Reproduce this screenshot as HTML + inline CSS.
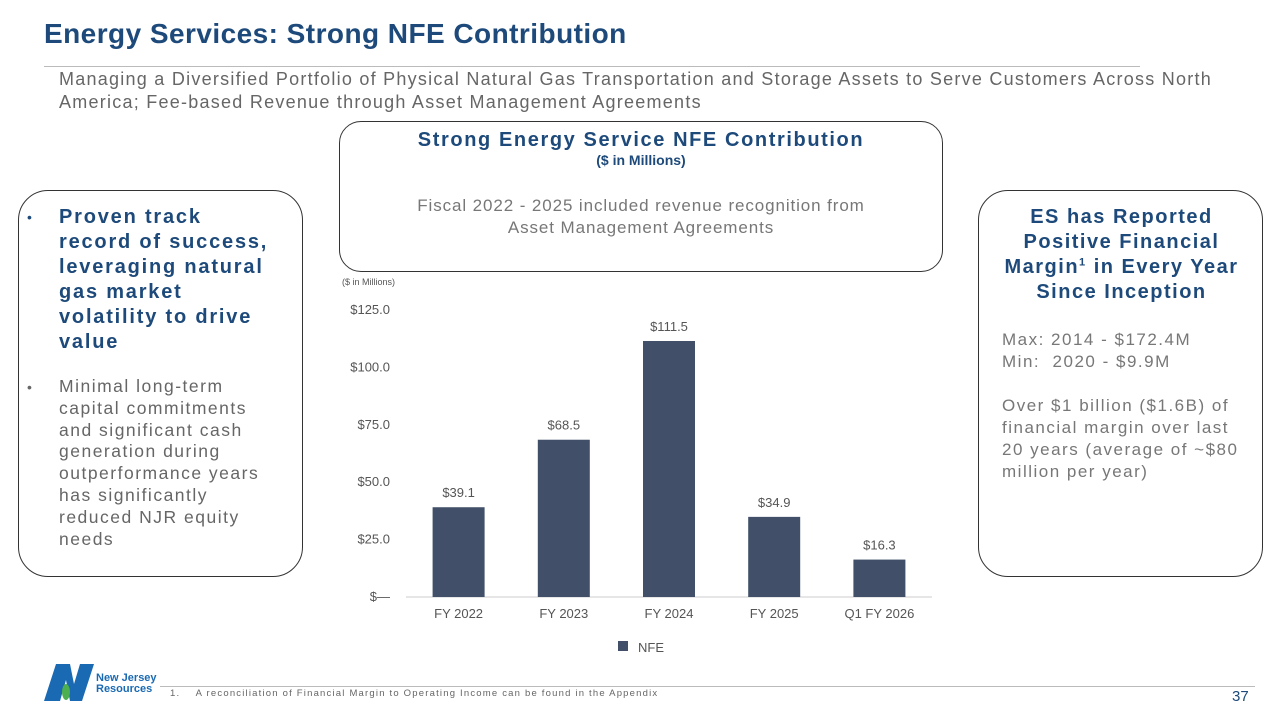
<!DOCTYPE html>
<html><head><meta charset="utf-8"><style>
body{margin:0;width:1280px;height:720px;background:#fff;font-family:"Liberation Sans",sans-serif;position:relative;overflow:hidden}
.abs{position:absolute}
.box{position:absolute;border:1px solid #333;border-radius:30px;box-sizing:border-box}
</style></head><body>
<div class="abs" style="left:44px;top:18px;font-size:28px;letter-spacing:0.45px;font-weight:bold;color:#1d4a7a">Energy Services: Strong NFE Contribution</div>
<div class="abs" style="left:44px;top:66px;width:1096px;height:1px;background:#bbb"></div>
<div class="abs" style="left:59px;top:68px;width:1220px;font-size:18px;letter-spacing:1.25px;line-height:23px;color:#666;white-space:nowrap">Managing a Diversified Portfolio of Physical Natural Gas Transportation and Storage Assets to Serve Customers Across North<br>America; Fee-based Revenue through Asset Management Agreements</div>

<div class="box" style="left:339px;top:121px;width:604px;height:151px;border-radius:22px;text-align:center">
<div style="margin-top:7px;font-size:20px;letter-spacing:1.6px;font-weight:bold;color:#1d4a7a">Strong Energy Service NFE Contribution</div>
<div style="font-size:14px;font-weight:bold;color:#1d4a7a">($ in Millions)</div>
<div style="margin-top:27px;font-size:17px;letter-spacing:0.9px;line-height:22px;color:#777">Fiscal 2022 - 2025 included revenue recognition from<br>Asset Management Agreements</div>
</div>

<div class="box" style="left:18px;top:190px;width:285px;height:387px">
<div class="abs" style="left:8px;top:18px;font-size:14px;color:#1d4a7a">•</div>
<div class="abs" style="left:40px;top:14px;width:245px;font-size:20px;letter-spacing:1.8px;line-height:25px;font-weight:bold;color:#1d4a7a;white-space:nowrap">Proven track<br>record of success,<br>leveraging natural<br>gas market<br>volatility to drive<br>value</div>
<div class="abs" style="left:8px;top:188px;font-size:14px;color:#666">•</div>
<div class="abs" style="left:40px;top:185px;width:245px;font-size:17.5px;letter-spacing:1.5px;line-height:21.8px;color:#666;white-space:nowrap">Minimal long-term<br>capital commitments<br>and significant cash<br>generation during<br>outperformance years<br>has significantly<br>reduced NJR equity<br>needs</div>
</div>

<div class="box" style="left:978px;top:190px;width:285px;height:387px">
<div class="abs" style="left:0px;top:14px;width:285px;text-align:center;font-size:20px;letter-spacing:1.5px;line-height:25px;font-weight:bold;color:#1d4a7a;white-space:nowrap">ES has Reported<br>Positive Financial<br>Margin<sup style="font-size:11px;line-height:0">1</sup> in Every Year<br>Since Inception</div>
<div class="abs" style="left:23px;top:138px;width:262px;font-size:17px;letter-spacing:1.5px;line-height:22px;color:#777;white-space:nowrap">Max: 2014 - $172.4M<br>Min:&nbsp; 2020 - $9.9M<br><br>Over $1 billion ($1.6B) of<br>financial margin over last<br>20 years (average of ~$80<br>million per year)</div>
</div>

<svg class="abs" style="left:0;top:0" width="1280" height="720">
<text x="342" y="285" font-size="9" fill="#555">($ in Millions)</text>
<g id="g"></g>
<rect x="618" y="641" width="10" height="10" fill="#415068"/>
<text x="638" y="652" font-size="13" fill="#555">NFE</text>
</svg>

<div class="abs" style="left:160px;top:686px;width:1095px;height:1px;background:#bbb"></div>
<div class="abs" style="left:170px;top:688px;font-size:9.5px;letter-spacing:1.2px;color:#666;white-space:nowrap">1.&nbsp;&nbsp;&nbsp;&nbsp;A reconciliation of Financial Margin to Operating Income can be found in the Appendix</div>
<div class="abs" style="left:1232px;top:688px;font-size:15px;color:#1d4a7a">37</div>
<div class="abs" style="left:44px;top:664px;width:50px;height:37px">
<svg width="50" height="37"><polygon points="0,37 12,0 26,0 30,20 36,0 50,0 38,37 26,37 22,16 16,37" fill="#1a6ab3"/><ellipse cx="22" cy="28" rx="4" ry="8" fill="#4caf50"/></svg>
</div>
<div class="abs" style="left:96px;top:673px;font-size:11px;line-height:11px;font-weight:bold;color:#1a6ab3">New Jersey<br>Resources</div>

<script>
const categories=["FY 2022","FY 2023","FY 2024","FY 2025","Q1 FY 2026"];
const nfeValues=[39.1,68.5,111.5,34.9,16.3];
const valueLabels=["$39.1","$68.5","$111.5","$34.9","$16.3"];
const tickValues=[0,25,50,75,100,125];
const tickLabels=["$—","$25.0","$50.0","$75.0","$100.0","$125.0"];
const NS="http://www.w3.org/2000/svg";
const g=document.getElementById('g');
const y0=597,yTop=310,vMax=125;
const y=v=>y0-(y0-yTop)*v/vMax;
const x0=406,step=105.2;
const xc=i=>x0+step*(i+0.5);
function mk(t,a,txt){const e=document.createElementNS(NS,t);for(const k in a)e.setAttribute(k,a[k]);if(txt!==undefined)e.textContent=txt;g.appendChild(e);return e;}
tickValues.forEach((v,i)=>{
const t=mk('text',{x:390,y:y(v)+4,'text-anchor':'end','font-size':13,fill:'#555'},tickLabels[i]);


});
const ax=mk('line',{x1:x0,x2:x0+step*5,y1:y0,y2:y0,stroke:'#ccc'});


categories.forEach((c,i)=>{
const v=nfeValues[i];
const r=mk('rect',{x:xc(i)-26,y:y(v),width:52,height:y0-y(v),fill:'#415068'});


const l=mk('text',{x:xc(i),y:y(v)-10,'text-anchor':'middle','font-size':13,fill:'#555'},valueLabels[i]);


const cl=mk('text',{x:xc(i),y:618,'text-anchor':'middle','font-size':13,fill:'#555'},c);


});
</script>
</body></html>
